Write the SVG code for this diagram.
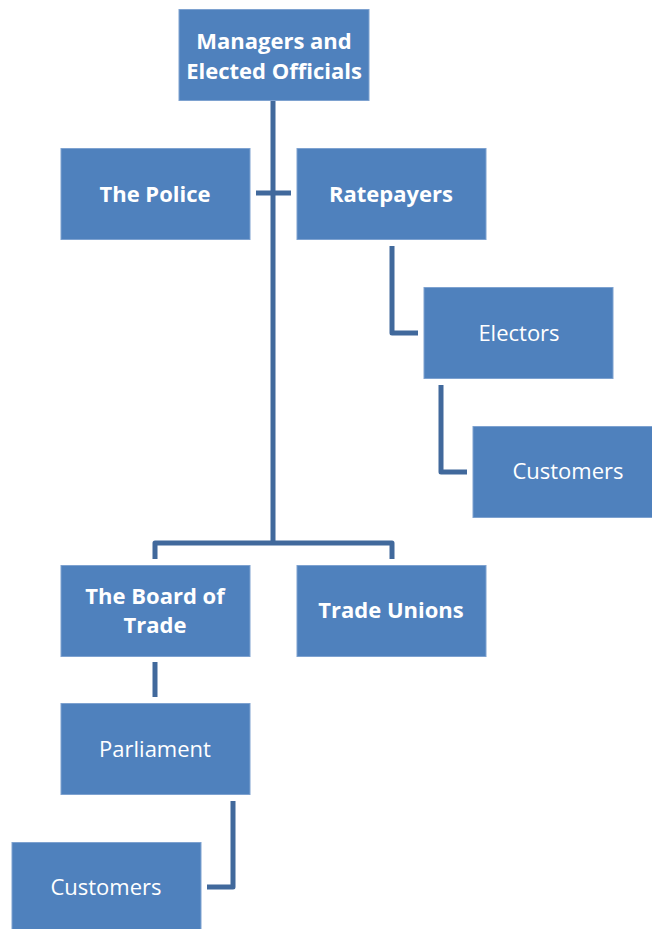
<svg xmlns="http://www.w3.org/2000/svg" width="652" height="929" viewBox="0 0 652 929">
<style>
.box{fill:#4f81bd;stroke:#7ea2d0;stroke-width:1}
.t{font-family:"Open Sans","Liberation Sans",sans-serif;font-size:22px;fill:#fff;text-anchor:middle;dominant-baseline:central}
.b{font-weight:bold}
.c{fill:none;stroke:#41699c;stroke-width:5;stroke-linejoin:round}
</style>
<rect width="652" height="929" fill="#fff"/>
<g id="connectors">
<path class="c" d="M273 100V543"/>
<path class="c" d="M256 193H291"/>
<path class="c" d="M155 559V543H392V559"/>
<path class="c" d="M392 246V333H418"/>
<path class="c" d="M441 385V472H467"/>
<path class="c" d="M155 662V697"/>
<path class="c" d="M233 801V887H207"/>
</g>
<g id="managers"><rect class="box" x="179" y="9.5" width="190" height="91"/><text class="t b" x="274" y="40">Managers and</text><text class="t b" x="274" y="70">Elected Officials</text></g>
<g id="police"><rect class="box" x="61" y="148.5" width="189" height="91"/><text class="t b" x="155" y="193">The Police</text></g>
<g id="ratepayers"><rect class="box" x="297" y="148.5" width="189" height="91"/><text class="t b" x="391" y="193">Ratepayers</text></g>
<g id="electors"><rect class="box" x="424" y="287.5" width="189" height="91"/><text class="t" x="519" y="332">Electors</text></g>
<g id="customers1"><rect class="box" x="473" y="426.5" width="190" height="91"/><text class="t" x="568" y="470">Customers</text></g>
<g id="board"><rect class="box" x="61" y="565.5" width="189" height="91"/><text class="t b" x="155" y="595">The Board of</text><text class="t b" x="155" y="624">Trade</text></g>
<g id="unions"><rect class="box" x="297" y="565.5" width="189" height="91"/><text class="t b" x="391" y="609">Trade Unions</text></g>
<g id="parliament"><rect class="box" x="61" y="703.5" width="189" height="91"/><text class="t" x="155" y="748">Parliament</text></g>
<g id="customers2"><rect class="box" x="12" y="842.5" width="189" height="91"/><text class="t" x="106" y="886">Customers</text></g>
</svg>
